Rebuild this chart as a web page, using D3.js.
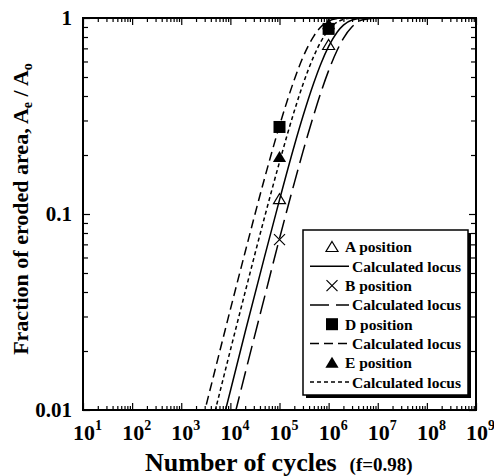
<!DOCTYPE html>
<html>
<head>
<meta charset="utf-8">
<script src="https://cdn.jsdelivr.net/npm/d3@7"></script>
<style>
body { margin: 0; background: #fff; }
svg text { font-family: "Liberation Serif", "Times New Roman", serif; font-weight: bold; fill: #000; }
</style>
</head>
<body>
<svg id="chart" width="494" height="476"></svg>
<script>
// calculated loci
const cycles = [2e3, 5e3, 1e4, 2e4, 5e4, 1e5, 2e5, 3e5, 5e5, 7e5, 1e6, 1.5e6, 2e6, 3e6, 5e6, 1e7, 4e7]
const locusA = [0.0025, 0.0063, 0.0125, 0.025, 0.061, 0.118, 0.223, 0.315, 0.467, 0.586, 0.716, 0.849, 0.92, 0.977, 0.998, 1, 1]
const locusB = [0.0016, 0.0039, 0.0077, 0.0154, 0.038, 0.075, 0.144, 0.208, 0.321, 0.419, 0.539, 0.687, 0.788, 0.902, 0.979, 0.9996, 1]
const locusD = [0.0066, 0.0164, 0.0326, 0.064, 0.153, 0.282, 0.484, 0.63, 0.809, 0.902, 0.964, 0.993, 0.9987, 1, 1, 1, 1]
const locusE = [0.0041, 0.0101, 0.0202, 0.04, 0.097, 0.184, 0.335, 0.458, 0.639, 0.76, 0.87, 0.953, 0.983, 0.998, 1, 1, 1]

// measured positions
const posCyclesA = [1e5, 1e6]
const posA = [0.119, 0.728]
const posCyclesB = [1e5]
const posB = [0.074]
const posCyclesD = [1e5, 1e6]
const posD = [0.278, 0.88]
const posCyclesE = [1e5, 1e6]
const posE = [0.195, 0.93]

const xTicks = [1e1, 1e2, 1e3, 1e4, 1e5, 1e6, 1e7, 1e8, 1e9]
const yTicks = [0.01, 0.1, 1]
const yTickLabels = ['0.01', '0.1', '1']

const svg = d3.select('#chart')
const plotLeft = 83, plotRight = 476, plotTop = 18, plotBottom = 410

const x = d3.scaleLog().domain([10, 1e9]).range([plotLeft, plotRight])
const y = d3.scaleLog().domain([0.01, 1]).range([plotBottom, plotTop])

// minor ticks 2..9 in each decade
const xMinor = []
for (let e = 1; e < 9; e++) for (let m = 2; m <= 9; m++) xMinor.push(m * Math.pow(10, e))
const yMinor = []
for (let e = -2; e < 0; e++) for (let m = 2; m <= 9; m++) yMinor.push(m * Math.pow(10, e))

function tickAxis(axis, scale, values, size, tx, ty) {
  const g = svg.append('g')
    .attr('transform', `translate(${tx},${ty})`)
    .call(axis(scale).tickValues(values).tickSize(-size).tickSizeOuter(0).tickFormat(''))
  g.select('.domain').remove()
  g.selectAll('line').attr('stroke', '#000').attr('stroke-width', 1.2)
}

tickAxis(d3.axisBottom, x, xTicks, 7, 0, plotBottom)
tickAxis(d3.axisBottom, x, xMinor, 4, 0, plotBottom)
tickAxis(d3.axisTop, x, xTicks, 7, 0, plotTop)
tickAxis(d3.axisTop, x, xMinor, 4, 0, plotTop)
tickAxis(d3.axisLeft, y, yTicks, 7, plotLeft, 0)
tickAxis(d3.axisLeft, y, yMinor, 5, plotLeft, 0)
tickAxis(d3.axisRight, y, yTicks, 7, plotRight, 0)
tickAxis(d3.axisRight, y, yMinor, 5, plotRight, 0)

// clip the loci to the frame
svg.append('clipPath').attr('id', 'plot-clip')
  .append('rect')
  .attr('x', plotLeft).attr('y', plotTop - 1)
  .attr('width', plotRight - plotLeft).attr('height', plotBottom - plotTop + 1)

const line = d3.line()
  .x(d => x(d[0]))
  .y(d => y(d[1]))
  .curve(d3.curveMonotoneX)

const loci = [
  { values: locusA, dash: null },
  { values: locusB, dash: '19,7' },
  { values: locusD, dash: '9,5' },
  { values: locusE, dash: '4,3' }
]

svg.append('g').attr('clip-path', 'url(#plot-clip)')
  .selectAll('path')
  .data(loci)
  .enter()
  .append('path')
  .attr('d', d => line(cycles.map((c, i) => [c, d.values[i]])))
  .attr('fill', 'none')
  .attr('stroke', '#000')
  .attr('stroke-width', 1.5)
  .attr('stroke-dasharray', d => d.dash)

// frame
svg.append('rect')
  .attr('x', plotLeft).attr('y', plotTop)
  .attr('width', plotRight - plotLeft).attr('height', plotBottom - plotTop)
  .attr('fill', 'none')
  .attr('stroke', '#000')
  .attr('stroke-width', 2)

// marker shapes
const triPath = s => `M0,${-s * 0.55}L${s * 0.6},${s * 0.45}L${-s * 0.6},${s * 0.45}Z`
function drawMarker(g, type) {
  if (type === 'triOpen') {
    g.append('path').attr('d', triPath(10)).attr('fill', 'none').attr('stroke', '#000').attr('stroke-width', 1.2)
  } else if (type === 'triFill') {
    g.append('path').attr('d', triPath(11)).attr('fill', '#000')
  } else if (type === 'square') {
    g.append('rect').attr('x', -6).attr('y', -6).attr('width', 12).attr('height', 12).attr('fill', '#000')
  } else if (type === 'cross') {
    g.append('path').attr('d', 'M-5.5,-5.5L5.5,5.5M-5.5,5.5L5.5,-5.5').attr('stroke', '#000').attr('stroke-width', 1.2)
  }
}

const positions = [
  { cyc: posCyclesB, vals: posB, type: 'cross' },
  { cyc: posCyclesE, vals: posE, type: 'triFill' },
  { cyc: posCyclesD, vals: posD, type: 'square' },
  { cyc: posCyclesA, vals: posA, type: 'triOpen' }
]
positions.forEach(p => {
  p.cyc.forEach((c, i) => {
    const g = svg.append('g').attr('transform', `translate(${x(c)},${y(p.vals[i])})`)
    drawMarker(g, p.type)
  })
})

// tick labels
const xl = svg.append('g')
xTicks.forEach(t => {
  const txt = xl.append('text')
    .attr('x', x(t) - 10)
    .attr('y', 440)
    .attr('font-size', 22)
  txt.append('tspan').text('10')
  txt.append('tspan').attr('dy', -10).attr('font-size', 14).text(Math.round(Math.log10(t)))
})

svg.append('g').selectAll('text')
  .data(yTicks)
  .enter()
  .append('text')
  .attr('x', 72)
  .attr('y', d => y(d))
  .attr('dy', '0.35em')
  .attr('text-anchor', 'end')
  .attr('font-size', 21)
  .text((d, i) => yTickLabels[i])

// axis titles
const xTitle = svg.append('text')
  .attr('x', 145)
  .attr('y', 471)
  .attr('font-size', 26)
xTitle.append('tspan').text('Number of cycles')
xTitle.append('tspan').attr('dx', 13).attr('font-size', 19).text('(f=0.98)')

const yTitle = svg.append('text')
  .attr('transform', 'translate(28,209) rotate(-90)')
  .attr('text-anchor', 'middle')
  .attr('font-size', 22)
yTitle.append('tspan').text('Fraction of eroded area, A')
yTitle.append('tspan').attr('font-size', 14).attr('dy', 4).text('e')
yTitle.append('tspan').attr('dy', -4).text(' / A')
yTitle.append('tspan').attr('font-size', 14).attr('dy', 4).text('o')

// legend
const lx = 303, ly = 230, lw = 165, lh = 165
const legend = svg.append('g')
legend.append('rect').attr('x', lx + 3).attr('y', ly + 3).attr('width', lw).attr('height', lh).attr('fill', '#000')
legend.append('rect').attr('x', lx).attr('y', ly).attr('width', lw).attr('height', lh)
  .attr('fill', '#fff').attr('stroke', '#000').attr('stroke-width', 1.5)

const legendRows = [
  { label: 'A position', marker: 'triOpen' },
  { label: 'Calculated locus', dash: null },
  { label: 'B position', marker: 'cross' },
  { label: 'Calculated locus', dash: '19,7' },
  { label: 'D position', marker: 'square' },
  { label: 'Calculated locus', dash: '9,5' },
  { label: 'E position', marker: 'triFill' },
  { label: 'Calculated locus', dash: '4,3' }
]
legendRows.forEach((r, i) => {
  const ry = 247 + i * 19.3
  if (r.marker) {
    drawMarker(legend.append('g').attr('transform', `translate(332,${ry})`), r.marker)
    legend.append('text').attr('x', 345).attr('y', ry).attr('dy', '0.35em').attr('font-size', 15.5).text(r.label)
  } else {
    legend.append('line')
      .attr('x1', 310).attr('x2', 349).attr('y1', ry).attr('y2', ry)
      .attr('stroke', '#000').attr('stroke-width', 1.5)
      .attr('stroke-dasharray', r.dash)
    legend.append('text').attr('x', 352).attr('y', ry).attr('dy', '0.35em').attr('font-size', 15.5).text(r.label)
  }
})
</script>
</body>
</html>
